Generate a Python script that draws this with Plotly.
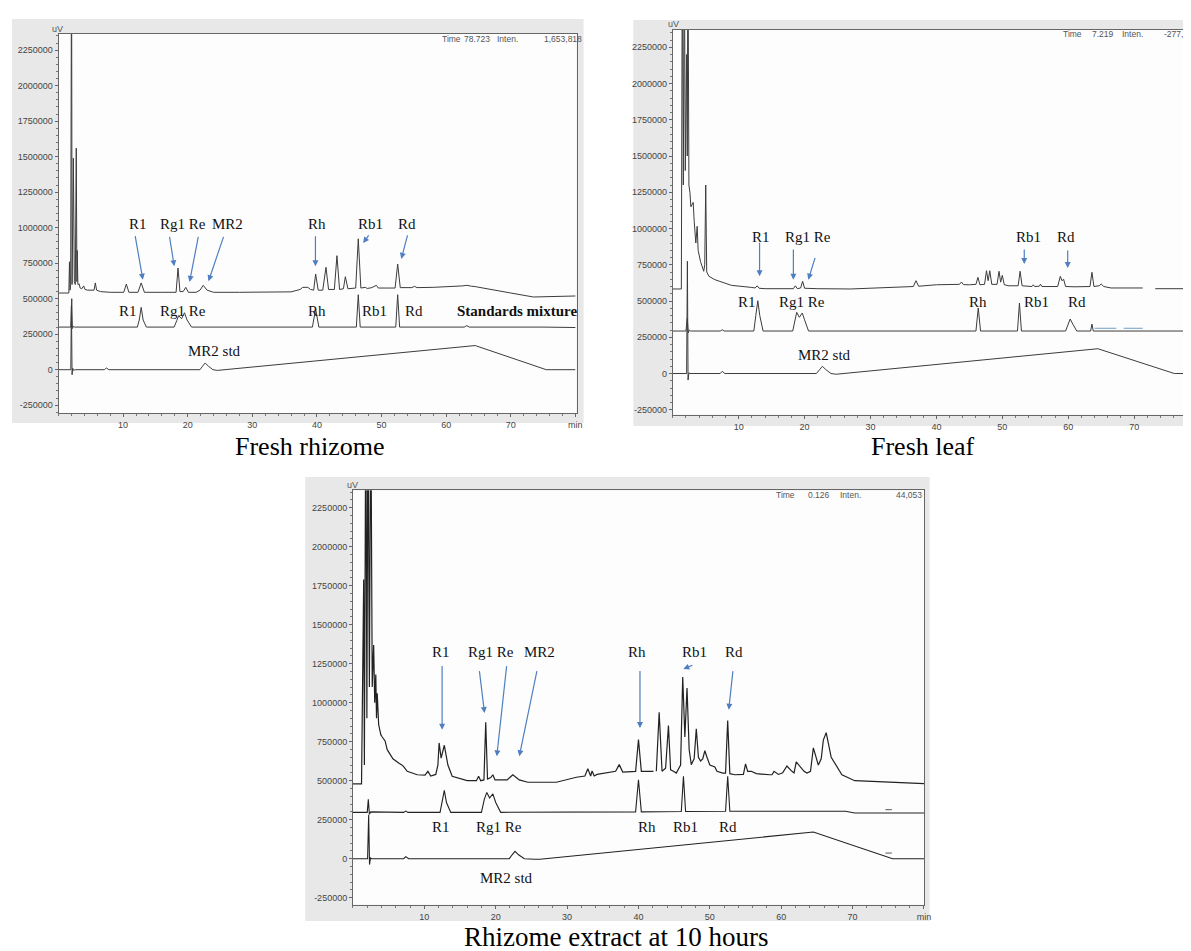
import plotly.graph_objects as go

W, H = 1191, 951

# ---------------- DATA (time in min, signal in thousand uV) ----------------
# Panel 1: Fresh rhizome
p1_top_t = [0, 1.6, 1.7, 1.78, 1.88, 1.95, 2.02, 2.1, 2.3, 2.45, 2.6, 2.75, 2.85, 2.9, 3.0, 3.2, 3.35, 3.6, 3.9, 4.1,
            4.5, 5.5, 5.7, 5.9, 6.5, 8, 10.1, 10.5, 10.9, 12.3, 12.8, 13.3, 16, 17.1, 18.2, 18.5, 18.8, 19.3, 19.7,
            20.1, 21.3, 21.9, 22.4, 23.0, 24.0, 28, 33, 36, 37.4, 37.8, 38.6, 39.0, 39.5, 39.8, 40.2, 40.9, 41.4,
            41.8, 42.7, 43.1, 43.5, 44.1, 44.4, 44.8, 46.0, 46.4, 46.8, 47.5, 47.8, 48.5, 49.2, 49.5, 50.5, 52.1,
            52.5, 52.9, 54.7, 55.1, 55.5, 58, 62.5, 63.2, 63.9, 64.5, 70, 73.5, 80]
p1_top_v = [540, 540, 760, 560, 600, 3000, 3000, 600, 1490, 620, 600, 1560, 620, 840, 600, 604, 575, 570, 590, 565,
            560, 560, 611, 560, 550, 545, 545, 603, 545, 545, 611, 545, 545, 545, 545, 716, 550, 550, 580,
            545, 545, 560, 594, 560, 545, 545, 545, 548, 565, 580, 580, 565, 560, 674, 560, 560, 721,
            565, 565, 803, 565, 570, 655, 570, 575, 922, 575, 580, 572, 578, 594, 575, 575, 575,
            744, 578, 578, 587, 578, 580, 590, 594, 588, 585, 540, 512, 519]
p1_mid_t = [0, 1.9, 2.05, 2.15, 2.3, 2.5, 12.2, 12.5, 12.8, 13.1, 13.6, 17.9, 18.3, 18.6, 19.05, 19.5, 19.9, 20.6,
            39.3, 39.8, 40.3, 46.1, 46.4, 46.7, 52.2, 52.5, 52.8, 62.8, 63.2, 63.6, 75, 80]
p1_mid_v = [300, 300, 500, 290, 305, 300, 300, 350, 439, 350, 300, 300, 345, 380, 359, 401, 350, 300,
            300, 427, 300, 300, 528, 300, 300, 528, 300, 300, 310, 300, 300, 297]
p1_bot_t = [0, 1.9, 2.0, 2.1, 2.2, 2.35, 2.6, 7.1, 7.4, 7.8, 21.9, 22.3, 22.7, 23.2, 23.9, 24.6, 64.5, 75.5, 80]
p1_bot_v = [0, 0, 450, -35, 10, -5, 0, 0, 12, 0, 0, 25, 47, 25, 0, -5, 170, 0, 0]

# Panel 2: Fresh leaf
p2_top_t = [0, 1.3, 1.45, 1.6, 1.75, 1.9, 2.1, 2.2, 2.3, 2.45, 2.6, 2.75, 3.1, 3.25, 3.5, 3.7, 3.85, 4.2, 4.7, 4.85,
            5.0, 5.15, 5.5, 6.4, 8.9, 11.9, 12.5, 12.8, 13.1, 14, 18.3, 18.6, 18.9, 19.4, 19.7, 20.0, 22, 27, 32,
            36.5, 36.9, 37.3, 40, 43.5, 43.8, 44.1, 45, 46.0, 46.3, 46.6, 47.3, 47.6, 47.85, 48.1, 48.4, 49.2,
            49.5, 49.75, 50.0, 50.3, 51, 52.4, 52.7, 53.0, 54.5, 54.7, 54.9, 55.6, 55.8, 56.0, 58.4, 58.8, 59.05,
            59.3, 59.6, 61, 63.3, 63.6, 63.9, 64.7, 65.0, 65.4, 66.5, 71.3, None, 73.2, 78.8]
p2_top_v = [583, 583, 3000, 1300, 3000, 1400, 2200, 1500, 3000, 1300, 1250, 1150, 1180, 1050, 900, 1015, 850, 774, 705, 750,
            1300, 700, 670, 647, 608, 594, 590, 605, 588, 585, 585, 605, 585, 590, 636, 588, 585, 583, 590,
            600, 640, 602, 612, 615, 631, 613, 612, 615, 663, 612, 615, 709, 640, 709, 615, 615,
            705, 630, 677, 612, 605, 605, 705, 605, 600, 612, 600, 602, 616, 600, 600, 670, 640,
            650, 600, 598, 600, 698, 600, 605, 617, 600, 590, 590, None, 585, 585]
p2_mid_t = [0, 2.0, 2.2, 2.35, 2.5, 2.7, 7.2, 7.5, 7.8, 12.3, 12.6, 12.9, 13.2, 13.7, 18.2, 18.55, 18.8, 19.2, 19.65,
            20.0, 20.6, 46.0, 46.35, 46.7, 52.3, 52.6, 52.9, 59.6, 60.0, 60.3, 60.7, 61.3, 63.4, 63.6, 63.8, 78.8]
p2_mid_v = [293, 293, 380, 280, 300, 293, 293, 302, 293, 293, 400, 502, 400, 293, 293, 380, 422, 388, 417,
            370, 293, 293, 452, 293, 293, 486, 293, 293, 350, 376, 340, 293, 293, 341, 293, 293]
p2_mark_t = [64.0, 67.3, None, 68.4, 71.3]
p2_mark_v = [312, 312, None, 312, 312]
p2_bot_t = [0, 2.1, 2.22, 2.32, 2.45, 2.6, 7.2, 7.5, 7.9, 21.8, 22.3, 22.7, 23.2, 24.0, 24.8, 64.5, 76.1, 78.8]
p2_bot_v = [0, 0, 774, -45, 5, 0, 0, 15, 0, 0, 28, 50, 28, 0, -5, 171, 0, 0]

# Panel 3: Rhizome extract at 10 hours
p3_top_t = [0, 1.2, 1.5, 1.6, 1.8, 1.95, 2.1, 2.3, 2.5, 2.7, 2.9, 3.05, 3.2, 3.3, 3.4, 3.6, 3.9, 4.1, 4.5, 4.8, 5.6,
            6.5, 6.8, 7.1, 7.6, 9.0, 10.1, 10.5, 10.9, 11.6, 11.9, 12.07, 12.35, 12.8, 13.3, 13.9, 16.0, 17.3, 17.6,
            17.9, 18.35, 18.6, 18.85, 19.3, 19.6, 19.9, 21.6, 22.4, 23.3, 24.5, 28.5, 31.3, 32.5, 32.9, 33.3, 33.5,
            33.8, 34.2, 35.4, 36.8, 37.3, 37.8, 39.6, 40.0, 40.4, 42.1, None, 42.5, 42.9, 43.3, 43.8, 44.2, 44.5,
            44.9, 45.3, 45.9, 46.2, 46.5, 46.8, 47.1, 47.4, 47.8, 48.1, 48.4, 48.7, 49.0, 49.3, 49.6, 50.0, 50.7,
            51.0, 51.8, 52.2, 52.5, 52.8, 53.5, 54.7, 55.0, 55.3, 55.8, 56.5, 58.4, 58.7, 59.0, 59.6, 60.2, 60.8,
            61.5, 61.8, 62.1, 63.2, 63.6, 64.1, 64.5, 65.2, 65.6, 65.9, 66.3, 67.0, 68.5, 70.3, 80]
p3_top_v = [479, 479, 1790, 600, 3000, 900, 3000, 1100, 3000, 1100, 1370, 1000, 1180, 900, 1060, 860, 795, 780, 755, 699, 640,
            610, 603, 590, 560, 538, 535, 560, 530, 540, 600, 742, 645, 727, 600, 528, 500, 500, 528,
            500, 505, 874, 510, 520, 538, 505, 505, 538, 505, 490, 490, 522, 530, 577, 530, 562,
            530, 540, 550, 560, 603, 555, 560, 763, 560, 560, None, 560, 938, 560, 580, 853, 570,
            560, 549, 600, 1165, 780, 1094, 700, 603, 640, 833, 650, 626, 640, 692, 650, 600, 588,
            560, 549, 549, 885, 545, 538, 540, 607, 560, 560, 545, 538, 538, 560, 540, 550, 594, 560,
            550, 620, 560, 549, 560, 710, 600, 640, 760, 808, 650, 538, 500, 481, 481]
p3_mid_t = [0, 2.0, 2.15, 2.3, 2.5, 7.1, 7.4, 7.7, 12.2, 12.5, 12.8, 13.1, 13.7, 18.0, 18.4, 18.75, 19.15, 19.6, 20.0,
            20.7, 39.6, 40.0, 40.4, 46.0, 46.3, 46.6, 52.2, 52.5, 52.8, 69.0, 70.3, 80]
p3_mid_v = [297, 297, 380, 285, 300, 297, 305, 297, 297, 360, 438, 360, 297, 297, 380, 425, 389, 415, 360,
            297, 300, 506, 300, 302, 528, 302, 304, 528, 304, 304, 293, 293]
p3_mark_t = [74.6, 75.5, None, 74.6, 75.5]
p3_mark_v = [314, 314, None, 36, 36]
p3_bot_t = [0, 2.05, 2.2, 2.32, 2.45, 2.6, 7.1, 7.4, 7.8, 21.9, 22.3, 22.7, 23.2, 24.0, 25.5, 26.2, 64.5, 75.6, 80]
p3_bot_v = [0, 0, 282, -38, 5, 0, 0, 13, 0, 0, 25, 47, 25, 0, -4, -4, 171, 0, 0]

y_ticks = [-250000, 0, 250000, 500000, 750000, 1000000, 1250000, 1500000, 1750000, 2000000, 2250000]
x_ticks = [10, 20, 30, 40, 50, 60, 70, 80]
x_ticktext = ["10", "20", "30", "40", "50", "60", "70", "min"]

# labels: (text, t) ; arrows: (tail t, tail v[k], head t, head v[k])
p1_top_labels = [("R1", 12.23), ("Rg1 Re", 19.31), ("MR2", 26.18), ("Rh", 40.08), ("Rb1", 48.34), ("Rd", 53.88)]
p1_mid_labels = [("R1", 10.72), ("Rg1 Re", 19.23), ("Rh", 40.08), ("Rb1", 48.95), ("Rd", 55.06)]
p1_arrows = [(11.83, 951, 13.06, 634), (17.15, 946, 17.92, 728), (21.68, 946, 20.29, 618), (25.62, 946, 23.22, 623),
             (39.77, 951, 39.77, 728), (48.18, 956, 47.15, 892), (54.08, 956, 53.06, 780)]
p2_top_labels = [("R1", 13.42), ("Rg1 Re", 20.59), ("Rb1", 54.04), ("Rd", 59.65)]
p2_mid_labels = [("R1", 11.33), ("Rg1 Re", 19.62), ("Rh", 46.32), ("Rb1", 55.17), ("Rd", 61.4)]
p2_arrows = [(13.17, 912, 13.17, 670), (18.30, 866, 18.30, 647), (21.66, 808, 20.56, 647),
             (53.33, 866, 53.33, 755), (59.92, 859, 59.92, 728)]
p3_top_labels = [("R1", 12.35), ("Rg1 Re", 19.31), ("MR2", 26.14), ("Rh", 39.76), ("Rb1", 47.86), ("Rd", 53.33)]
p3_mid_labels = [("R1", 12.4), ("Rg1 Re", 20.45), ("Rh", 41.2), ("Rb1", 46.6), ("Rd", 52.6)]
p3_arrows = [(12.49, 1244, 12.49, 827), (17.69, 1212, 18.43, 934), (21.55, 1244, 20.15, 656), (25.81, 1212, 23.30, 656),
             (40.21, 1212, 40.21, 838), (47.77, 1244, 46.28, 1216), (53.25, 1212, 52.65, 955)]

# ---------------- LAYOUT GEOMETRY (pixels) ----------------
def px(x):
    return x / W

def py(y):
    return 1 - y / H

panels = [
    dict(l=50.8, r=572, t=26, b=405, xr=[0, 80.2], yr=[-305000, 2364000], box=(4, 579, 11, 415), mir=True),
    dict(l=668.7, r=1191, t=22, b=406.7, xr=[0, 78.78], yr=[-284000, 2369000], box=(629, 1191, 12, 418), mir=False),
    dict(l=347, r=921.4, t=482.3, b=896.7, xr=[0, 80], yr=[-295000, 2361500], box=(299, 927, 469, 913), mir=True),
]

fig = go.Figure()
LINE = "#3c3c3c"
BLUE = "#4f7fc0"
SERIF = "Liberation Serif"
SANS = "Liberation Sans"

def k(vals):
    return [None if v is None else v * 1000 for v in vals]

series = [
    [(p1_top_t, p1_top_v, LINE, 1.0), (p1_mid_t, p1_mid_v, LINE, 1.0), (p1_bot_t, p1_bot_v, LINE, 1.0)],
    [(p2_top_t, p2_top_v, LINE, 1.0), (p2_mid_t, p2_mid_v, LINE, 1.0), (p2_mark_t, p2_mark_v, "#6f9fc8", 1.0),
     (p2_bot_t, p2_bot_v, LINE, 1.0)],
    [(p3_top_t, p3_top_v, "#222222", 1.2), (p3_mid_t, p3_mid_v, "#222222", 1.1), (p3_mark_t, p3_mark_v, "#555555", 1.0),
     (p3_bot_t, p3_bot_v, "#222222", 1.1)],
]

for i, (p, sers) in enumerate(zip(panels, series), start=1):
    sfx = "" if i == 1 else str(i)
    for t, v, col, wd in sers:
        fig.add_trace(go.Scatter(x=t, y=k(v), mode="lines", line=dict(color=col, width=wd),
                                 xaxis="x" + sfx, yaxis="y" + sfx, showlegend=False, hoverinfo="skip",
                                 connectgaps=False))
    axfont = dict(family=SANS, size=9, color="#444")
    fig.layout["xaxis" + sfx] = dict(
        domain=[px(p["l"]), px(p["r"])], range=p["xr"], anchor="y" + sfx,
        tickmode="array", tickvals=x_ticks, ticktext=x_ticktext, ticks="outside", ticklen=3,
        tickcolor="#666", tickfont=axfont, showgrid=False, zeroline=False,
        showline=True, linecolor="#666", linewidth=1, mirror=True,
        minor=dict(tickmode="linear", tick0=0, dtick=2, ticks="outside", ticklen=2, tickcolor="#777"),
    )
    fig.layout["yaxis" + sfx] = dict(
        domain=[py(p["b"]), py(p["t"])], range=p["yr"], anchor="x" + sfx,
        tickmode="array", tickvals=y_ticks, ticktext=[str(v) for v in y_ticks], ticks="outside", ticklen=3,
        tickcolor="#666", tickfont=axfont, showgrid=False, zeroline=False,
        showline=True, linecolor="#666", linewidth=1, mirror=p["mir"],
        minor=dict(tickmode="linear", tick0=0, dtick=50000, ticks="outside", ticklen=2, tickcolor="#777"),
    )

shapes = []
for p in panels:
    x0, x1, y0, y1 = p["box"]
    shapes.append(dict(type="rect", xref="paper", yref="paper", x0=px(x0), x1=px(x1), y0=py(y1), y1=py(y0),
                       fillcolor="#e8e8e8", line=dict(width=0), layer="below"))
for p in panels:
    shapes.append(dict(type="rect", xref="paper", yref="paper", x0=px(p["l"]), x1=px(p["r"]), y0=py(p["b"]),
                       y1=py(p["t"]), fillcolor="#fdfdfd", line=dict(width=0), layer="below"))
fig.update_layout(shapes=shapes)

ann = []
def lab(text, t, v, ax, size=15, bold=False):
    ann.append(dict(x=t, y=v * 1000, xref="x" + ax, yref="y" + ax, text=("<b>%s</b>" % text) if bold else text,
                    showarrow=False, font=dict(family=SERIF, size=size, color="#111"),
                    xanchor="center", yanchor="middle"))

def arrows(lst, ax):
    for t0, v0, t1, v1 in lst:
        ann.append(dict(x=t1, y=v1 * 1000, ax=t0, ay=v0 * 1000, xref="x" + ax, yref="y" + ax,
                        axref="x" + ax, ayref="y" + ax, text="", showarrow=True, arrowhead=2,
                        arrowsize=1, arrowwidth=1.2, arrowcolor=BLUE))

for txt, t in p1_top_labels:
    lab(txt, t, 1028, "")
for txt, t in p1_mid_labels:
    lab(txt, t, 411, "")
lab("Standards mixture", 71.03, 411, "", bold=True)
lab("MR2 std", 24.08, 132, "")
arrows(p1_arrows, "")

for txt, t in p2_top_labels:
    lab(txt, t, 941, "2")
for txt, t in p2_mid_labels:
    lab(txt, t, 491, "2")
lab("MR2 std", 23.08, 130, "2")
arrows(p2_arrows, "2")

for txt, t in p3_top_labels:
    lab(txt, t, 1325, "3")
for txt, t in p3_mid_labels:
    lab(txt, t, 200, "3")
lab("MR2 std", 21.55, -124, "3")
arrows(p3_arrows, "3")

def ptxt(text, x, y, size=8.5, anchor="center", color="#555", family=SANS):
    ann.append(dict(x=px(x), y=py(y), xref="paper", yref="paper", text=text, showarrow=False,
                    font=dict(family=family, size=size, color=color), xanchor=anchor, yanchor="middle"))

# header texts
for (tx, x) in [("Time", 445.8), ("78.723", 471.9), ("Inten.", 502.5), ("1,653,818", 558.7)]:
    ptxt(tx, x, 31)
for (tx, x) in [("Time", 1071), ("7.219", 1101.3), ("Inten.", 1130.7)]:
    ptxt(tx, x, 26)
ptxt("-277,9", 1189, 26, anchor="right")
for (tx, x) in [("Time", 782), ("0.126", 815.7), ("Inten.", 847.3), ("44,053", 906)]:
    ptxt(tx, x, 486.7)
ptxt("uV", 49.8, 21, size=9)
ptxt("uV", 669, 16, size=9)
ptxt("uV", 346.5, 476.5, size=9)

# captions
ptxt("Fresh rhizome", 303.5, 438, size=26, color="#000", family=SERIF)
ptxt("Fresh leaf", 920.5, 438, size=26, color="#000", family=SERIF)
ptxt("Rhizome extract at 10 hours", 611.6, 929, size=27, color="#000", family=SERIF)

fig.update_layout(annotations=ann, width=W, height=H, margin=dict(l=0, r=0, t=0, b=0),
                  paper_bgcolor="white", plot_bgcolor="white", showlegend=False)

fig.write_html("out.html")
